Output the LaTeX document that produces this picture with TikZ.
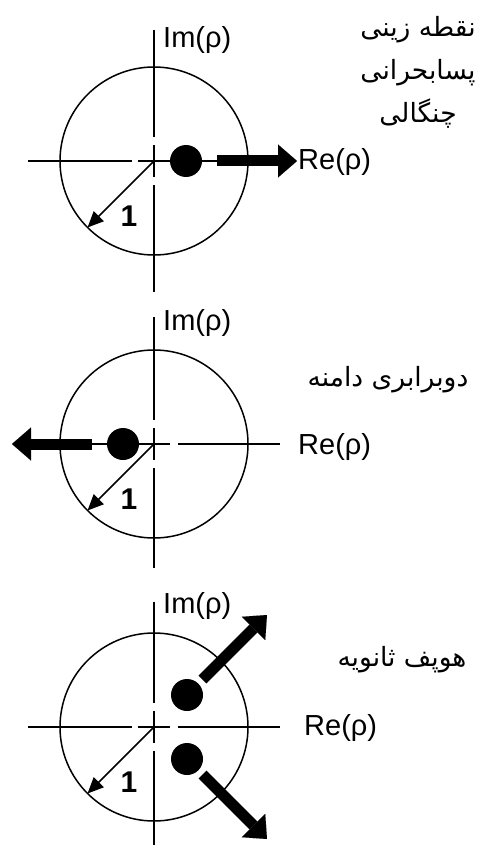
\documentclass[tikz,border=0pt]{standalone}
\usepackage{fontspec}
\setmainfont{Liberation Sans}
\newfontfamily\arabicfont[Script=Arabic]{DejaVu Sans}
\TeXXeTstate=1
\usetikzlibrary{arrows.meta}
\begin{document}
\begin{tikzpicture}[x=1pt,y=-1pt,
  axis/.style={line width=1.8pt},
  unitcircle/.style={line width=1.5pt},
  dot/.style={circle,fill=black,inner sep=0pt,minimum size=32pt},
  bigarrow/.style={line width=11pt,-{Triangle[width=33pt,length=19pt,line width=0.01pt]}},
  radarrow/.style={line width=1.6pt,-{Triangle[width=14pt,length=16pt]}},
  lbl/.style={inner sep=0pt,font=\fontsize{29}{32}\selectfont},
  fa/.style={inner sep=0pt,align=center,font=\arabicfont\fontsize{26.5}{43}\selectfont}]
\fill[white] (0,0) rectangle (477,845);
\useasboundingbox (0,0) rectangle (477,845);
% common parts of three panels
\foreach \c/\top/\bot/\n in {161/30/292/1,444/317/568/2,727/602/845/3}{
  \coordinate (o\n) at (154,\c);
  \draw[unitcircle] (o\n) circle[radius=94];
  \draw[axis] (154,\top) -- (154,\c-24);
  \draw[axis] (154,\c-16) -- (154,\c+16);
  \draw[axis] (154,\c+24) -- (154,\bot);
  \coordinate (r\n) at (87.5,\c+66.5);
  \draw[radarrow] (o\n) -- (r\n);
  \node[lbl,font=\fontsize{30}{32}\selectfont\bfseries] (one\n) at (129,\c+55) {1};
  \node[lbl,anchor=west] (im\n) at (163,\c-121) {Im(ρ)};
}
% ---- panel 1: pitchfork
\draw[axis] (28,161) -- (132,161);
\node[dot] (d1) at (186,161) {};
\draw[axis] (138,161) -- (d1.west);
\coordinate (a1s) at (217,161);
\coordinate (a1e) at (297,161);
\draw[axis] (d1.east) -- (a1s);
\draw[bigarrow] (a1s) -- (a1e);
\node[lbl,anchor=west] (re1) at (298,162) {Re(ρ)};
\node[fa] (t1) at (418,72) {\beginR نقطه زینی\endR\\\beginR پسابحرانی\endR\\\beginR چنگالی\endR};
% ---- panel 2: period doubling
\draw[axis] (138,444) -- (170,444);
\draw[axis] (178,444) -- (280,444);
\node[dot] (d2) at (123,444) {};
\coordinate (a2s) at (92,444);
\coordinate (a2e) at (12,444);
\draw[axis] (d2.west) -- (a2s);
\draw[bigarrow] (a2s) -- (a2e);
\node[lbl,anchor=west] (re2) at (298,447) {Re(ρ)};
\node[fa] (t2) at (388,380) {\beginR دوبرابری دامنه\endR};
% ---- panel 3: secondary Hopf
\draw[axis] (28,727) -- (132,727);
\draw[axis] (138,727) -- (170,727);
\draw[axis] (178,727) -- (280,727);
\node[dot] (d3a) at (187,695) {};
\node[dot] (d3b) at (187,759) {};
\coordinate (a3s) at (202.5,679.5);
\coordinate (a3e) at (267,615);
\coordinate (a4s) at (202.5,774.5);
\coordinate (a4e) at (267,839);
\draw[bigarrow] (a3s) -- (a3e);
\draw[bigarrow] (a4s) -- (a4e);
\node[lbl,anchor=west] (re3) at (304,728) {Re(ρ)};
\node[fa] (t3) at (402,660) {\beginR هوپف ثانویه\endR};
\end{tikzpicture}
\end{document}
